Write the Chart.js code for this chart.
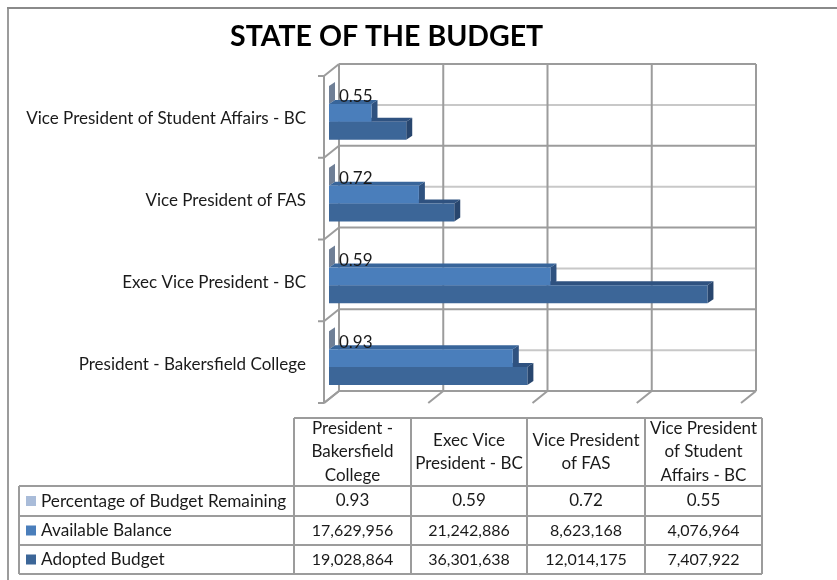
<!DOCTYPE html>
<html>
<head>
<meta charset="utf-8">
<style>
    html, body { margin: 0; padding: 0; background: #fff; }
    #wrap { width: 837px; height: 580px; position: relative; }
</style>
<script src="https://cdn.jsdelivr.net/npm/chart.js@4"></script>
</head>
<body>
<div id="wrap"><canvas id="chart" width="837" height="580"></canvas></div>
<script>
const chartTitle = 'STATE OF THE BUDGET';
const categories = ['President - Bakersfield College', 'Exec Vice President - BC', 'Vice President of FAS', 'Vice President of Student Affairs - BC'];
const headerLines = [['President -', 'Bakersfield', 'College'], ['Exec Vice', 'President - BC'], ['Vice President', 'of FAS'], ['Vice President', 'of Student', 'Affairs - BC']];
const percentRemaining = [0.93, 0.59, 0.72, 0.55];
const availableBalance = [17629956, 21242886, 8623168, 4076964];
const adoptedBudget = [19028864, 36301638, 12014175, 7407922];
const xMax = 40000000;
const xStep = 10000000;

const FONT = 'Lato, "Open Sans", sans-serif';
const GRID = '#9c9c9c';
const GRID_LIGHT = '#c8c8c8';
const TEXT = '#1a1a1a';

// Offsets of the fake 3D box, bars sit half way through the depth
const wallDx = 10, wallDy = -8;
const floorDx = -5, floorDy = 4;
const barDx = 6, barDy = -4;

function poly(ctx, pts, fill) {
    ctx.fillStyle = fill;
    ctx.beginPath();
    pts.forEach((p, i) => i ? ctx.lineTo(p[0], p[1]) : ctx.moveTo(p[0], p[1]));
    ctx.closePath();
    ctx.fill();
}

function line(ctx, x1, y1, x2, y2, color, width) {
    ctx.strokeStyle = color;
    ctx.lineWidth = width || 2;
    ctx.beginPath();
    ctx.moveTo(x1, y1);
    ctx.lineTo(x2, y2);
    ctx.stroke();
}

// Walls, floor and ticks behind the bars
const boxPlugin = {
    id: 'box',
    beforeDatasetsDraw(chart) {
        const ctx = chart.ctx, x = chart.scales.x, a = chart.chartArea;
        const band = (a.bottom - a.top) / categories.length;
        const backLeft = a.left + wallDx, backTop = a.top + wallDy, backBottom = a.bottom + wallDy;
        const frontLeft = a.left + floorDx, frontTop = a.top + floorDy, frontBottom = a.bottom + floorDy;
        ctx.save();
        // lighter lines half way along each category
        for (let i = 0; i < categories.length; i++) {
            const my = backTop + band * (i + 0.5);
            line(ctx, backLeft, my, x.getPixelForValue(xMax) + wallDx, my, GRID_LIGHT);
        }
        for (let i = 0; i <= categories.length; i++) {
            const gy = backTop + band * i;
            line(ctx, backLeft, gy, x.getPixelForValue(xMax) + wallDx, gy, GRID);
            // side wall and category tick
            const fy = frontTop + band * i;
            line(ctx, frontLeft, fy, backLeft, gy, GRID);
            line(ctx, frontLeft - 6, fy, frontLeft, fy, GRID);
        }
        line(ctx, frontLeft, frontTop, frontLeft, frontBottom, GRID);
        for (let v = 0; v <= xMax; v += xStep) {
            const px = x.getPixelForValue(v);
            line(ctx, px + wallDx, backTop, px + wallDx, backBottom, GRID);
            line(ctx, px + wallDx, backBottom, px + floorDx, frontBottom, GRID);
        }
        // bar tops and sides, back to front
        [0, 2, 1].forEach(d => {
            const ds = chart.data.datasets[d];
            chart.getDatasetMeta(d).data.forEach(el => {
                const top = el.y - el.height / 2, bottom = el.y + el.height / 2;
                poly(ctx, [[el.base, top], [el.base + barDx, top + barDy], [el.x + barDx, top + barDy], [el.x, top]], ds.topColor);
                poly(ctx, [[el.x, top], [el.x + barDx, top + barDy], [el.x + barDx, bottom + barDy], [el.x, bottom]], ds.sideColor);
            });
        });
        ctx.restore();
    },
    afterDatasetsDraw(chart) {
        const ctx = chart.ctx;
        ctx.save();
        // data labels of the percentage series
        ctx.font = '17px ' + FONT;
        ctx.fillStyle = TEXT;
        ctx.textBaseline = 'middle';
        chart.getDatasetMeta(0).data.forEach((el, i) => {
            ctx.fillText(percentRemaining[i].toFixed(2), el.x + 10, el.y + 2);
        });
        ctx.restore();
    }
};

const fmt = n => n.toLocaleString('en-US');

// Title, outer frame and the data table under the chart
const tablePlugin = {
    id: 'table',
    afterDraw(chart) {
        const ctx = chart.ctx, datasets = chart.data.datasets;
        const cols = [294, 411, 527, 645, 762];
        const rows = [486, 516, 545, 574];
        const headTop = 418, tableLeft = 19;
        ctx.save();
        line(ctx, 8, 8, 8, 580, GRID, 2);
        line(ctx, 7, 8, 837, 8, '#8a8a8a', 2);
        ctx.font = 'bold 28.5px ' + FONT;
        ctx.fillStyle = '#000';
        ctx.textAlign = 'left';
        ctx.textBaseline = 'middle';
        ctx.fillText(chartTitle, 230, 37);

        cols.forEach(c => line(ctx, c, headTop, c, rows[3], GRID));
        line(ctx, cols[0], headTop, cols[4], headTop, GRID);
        rows.forEach(r => line(ctx, tableLeft, r, cols[4], r, GRID));
        line(ctx, tableLeft, rows[0], tableLeft, rows[3], GRID);

        ctx.font = '17px ' + FONT;
        ctx.fillStyle = TEXT;
        ctx.textAlign = 'center';
        headerLines.forEach((ls, c) => {
            const cx = (cols[c] + cols[c + 1]) / 2, cy = (headTop + rows[0]) / 2;
            ls.forEach((t, i) => ctx.fillText(t, cx, cy + (i - (ls.length - 1) / 2) * 23.5));
        });
        datasets.forEach((ds, r) => {
            const cy = (rows[r] + rows[r + 1]) / 2;
            ctx.fillStyle = ds.backgroundColor;
            ctx.fillRect(26, cy - 5, 10, 10);
            ctx.fillStyle = TEXT;
            ctx.textAlign = 'left';
            ctx.font = '17.2px ' + FONT;
            ctx.fillText(ds.label, 41, cy);
            ctx.textAlign = 'center';
            ctx.font = (r === 0 ? '17px ' : '16px ') + FONT;
            ds.data.forEach((v, c) => {
                const t = r === 0 ? v.toFixed(2) : fmt(v);
                ctx.fillText(t, (cols[c] + cols[c + 1]) / 2, cy);
            });
        });
        ctx.restore();
    }
};

new Chart(document.getElementById('chart').getContext('2d'), {
    type: 'bar',
    data: {
        labels: categories,
        datasets: [
            { label: 'Percentage of Budget Remaining', data: percentRemaining, backgroundColor: '#a9bcd9', topColor: '#8295ad', sideColor: '#6f7f96' },
            { label: 'Available Balance', data: availableBalance, backgroundColor: '#4a7ebb', topColor: '#38659a', sideColor: '#2f5280' },
            { label: 'Adopted Budget', data: adoptedBudget, backgroundColor: '#3c6698', topColor: '#2f5280', sideColor: '#28466e' }
        ]
    },
    plugins: [boxPlugin, tablePlugin],
    options: {
        indexAxis: 'y',
        responsive: false,
        animation: false,
        layout: { padding: { top: 72, right: 91, left: 0, bottom: 0 } },
        datasets: { bar: { categoryPercentage: 0.66, barPercentage: 1, borderWidth: 0 } },
        plugins: { legend: { display: false }, title: { display: false }, tooltip: { enabled: false } },
        scales: {
            x: {
                min: 0,
                max: xMax,
                ticks: { stepSize: xStep, display: false },
                grid: { display: false },
                border: { display: false },
                afterFit: s => { s.height = 181; }
            },
            y: {
                reverse: true,
                grid: { display: false },
                border: { display: false },
                ticks: { color: TEXT, font: { size: 17, family: FONT }, padding: 15, labelOffset: 6, autoSkip: false },
                afterFit: s => { s.width = 329; }
            }
        }
    }
});
</script>
</body>
</html>
